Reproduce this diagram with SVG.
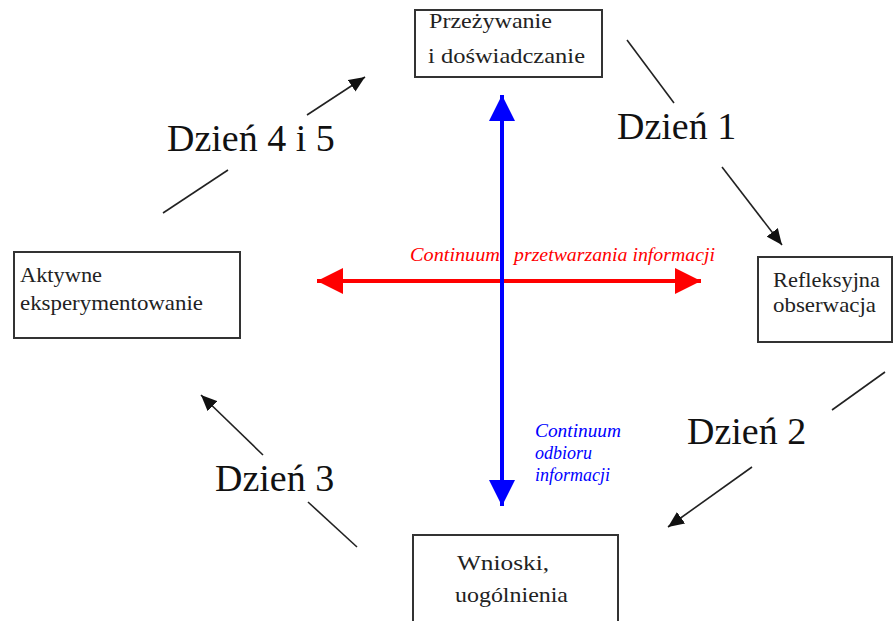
<svg xmlns="http://www.w3.org/2000/svg" width="893" height="621" viewBox="0 0 893 621">
<style>
.box{fill:#fff;stroke:#333;stroke-width:2}
.bt{font-family:"Liberation Serif",serif;font-size:21px;fill:#222}
.day{font-family:"Liberation Serif",serif;font-size:38px;fill:#111}
.cn{stroke:#222;stroke-width:1.6;fill:none}
.red{font-family:"Liberation Serif",serif;font-style:italic;font-size:18px;fill:#f00}
.blue{font-family:"Liberation Serif",serif;font-style:italic;font-size:18px;fill:#00f}
</style>
<defs>
<marker id="ah" markerUnits="userSpaceOnUse" markerWidth="18" markerHeight="14" refX="16" refY="7" orient="auto">
<path d="M0,0 L16,7 L0,14 Z" fill="#111"/>
</marker>
<marker id="rh" markerUnits="userSpaceOnUse" markerWidth="28" markerHeight="26" refX="26" refY="13" orient="auto-start-reverse">
<path d="M0,0 L26,13 L0,26 Z" fill="#f00"/>
</marker>
<marker id="bh" markerUnits="userSpaceOnUse" markerWidth="28" markerHeight="26" refX="26" refY="13" orient="auto-start-reverse">
<path d="M0,0 L26,13 L0,26 Z" fill="#00f"/>
</marker>
</defs>
<rect width="893" height="621" fill="#fff"/>

<g id="connectors">
<line class="cn" x1="627" y1="40" x2="674" y2="103"/>
<line class="cn" x1="722" y1="167" x2="782" y2="245" marker-end="url(#ah)"/>
<line class="cn" x1="885" y1="372" x2="832" y2="410"/>
<line class="cn" x1="752" y1="467" x2="668" y2="527" marker-end="url(#ah)"/>
<line class="cn" x1="357" y1="547" x2="308" y2="502"/>
<line class="cn" x1="263" y1="455" x2="201" y2="395" marker-end="url(#ah)"/>
<line class="cn" x1="163" y1="213" x2="228" y2="170"/>
<line class="cn" x1="307" y1="115" x2="365" y2="77" marker-end="url(#ah)"/>
<line x1="317" y1="281" x2="701" y2="281" stroke="#f00" stroke-width="4" marker-start="url(#rh)" marker-end="url(#rh)"/>
<line x1="502" y1="95" x2="502" y2="506" stroke="#00f" stroke-width="4" marker-start="url(#bh)" marker-end="url(#bh)"/>
</g>

<g id="node-przezywanie">
<rect class="box" x="415" y="10" width="187" height="67"/>
<text class="bt" x="429" y="28" textLength="123" lengthAdjust="spacingAndGlyphs">Przeżywanie</text>
<text class="bt" x="428" y="63" textLength="157" lengthAdjust="spacingAndGlyphs">i doświadczanie</text>
</g>

<g id="node-refleksyjna">
<rect class="box" x="758" y="257" width="134" height="85"/>
<text class="bt" x="773" y="287" textLength="107" lengthAdjust="spacingAndGlyphs">Refleksyjna</text>
<text class="bt" x="773" y="312" textLength="103" lengthAdjust="spacingAndGlyphs">obserwacja</text>
</g>

<g id="node-wnioski">
<rect class="box" x="413" y="535" width="205" height="95"/>
<text class="bt" x="457" y="570" textLength="92" lengthAdjust="spacingAndGlyphs">Wnioski,</text>
<text class="bt" x="455" y="602" textLength="113" lengthAdjust="spacingAndGlyphs">uogólnienia</text>
</g>

<g id="node-aktywne">
<rect class="box" x="14" y="252" width="226" height="86"/>
<text class="bt" x="20" y="282" textLength="82" lengthAdjust="spacingAndGlyphs">Aktywne</text>
<text class="bt" x="20" y="310" textLength="183" lengthAdjust="spacingAndGlyphs">eksperymentowanie</text>
</g>

<g id="labels">
<text class="day" x="617" y="139">Dzień 1</text>
<text class="day" x="687" y="444">Dzień 2</text>
<text class="day" x="215" y="491">Dzień 3</text>
<text class="day" x="167" y="151">Dzień 4 i 5</text>
<text class="red" x="410" y="261" textLength="90" lengthAdjust="spacingAndGlyphs">Continuum</text>
<text class="red" x="514" y="261" textLength="201" lengthAdjust="spacingAndGlyphs">przetwarzania informacji</text>
<text class="blue" x="535" y="437" textLength="86" lengthAdjust="spacingAndGlyphs">Continuum</text>
<text class="blue" x="535" y="459">odbioru</text>
<text class="blue" x="535" y="481">informacji</text>
</g>
</svg>
